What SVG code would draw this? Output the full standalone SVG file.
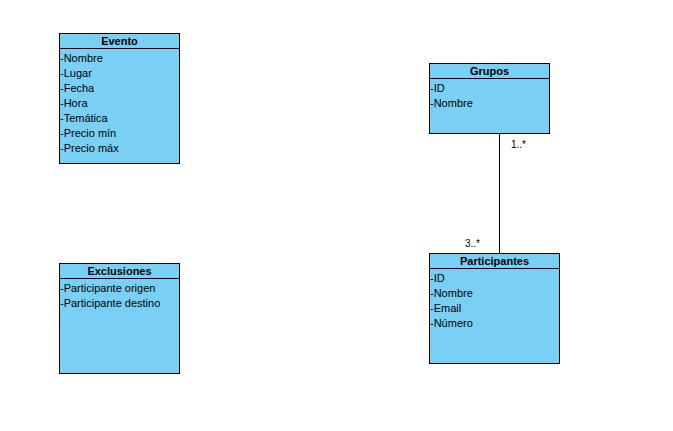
<svg xmlns="http://www.w3.org/2000/svg" width="673" height="431" viewBox="0 0 673 431">
  <style>
    .box { fill: #7acff5; stroke: #000; stroke-width: 1; }
    .sep { stroke: #000; stroke-width: 1; }
    .title { font-family: "Liberation Sans", Arial, sans-serif; font-size: 11px; font-weight: bold; fill: #000; text-anchor: middle; }
    .attr { font-family: "Liberation Sans", Arial, sans-serif; font-size: 11px; fill: #000; }
    .mult { font-family: "Liberation Sans", Arial, sans-serif; font-size: 10px; fill: #000; }
    .link { stroke: #000; stroke-width: 1; fill: none; }
  </style>
  <rect width="673" height="431" fill="#fff"/>

  <g id="connectors">
    <line class="link" x1="499.5" y1="133" x2="499.5" y2="253"/>
    <text class="mult" x="511" y="148">1..*</text>
    <text class="mult" x="465" y="247">3..*</text>
  </g>

  <g id="evento">
    <rect class="box" x="59.5" y="33.5" width="120" height="130"/>
    <line class="sep" x1="59.5" y1="48.5" x2="179.5" y2="48.5"/>
    <text class="title" x="119.5" y="45">Evento</text>
    <text class="attr" x="60" y="62">-Nombre</text>
    <text class="attr" x="60" y="77">-Lugar</text>
    <text class="attr" x="60" y="92">-Fecha</text>
    <text class="attr" x="60" y="107">-Hora</text>
    <text class="attr" x="60" y="122">-Temática</text>
    <text class="attr" x="60" y="137">-Precio mín</text>
    <text class="attr" x="60" y="152">-Precio máx</text>
  </g>

  <g id="grupos">
    <rect class="box" x="429.5" y="63.5" width="120" height="70"/>
    <line class="sep" x1="429.5" y1="78.5" x2="549.5" y2="78.5"/>
    <text class="title" x="489.5" y="75">Grupos</text>
    <text class="attr" x="430" y="92">-ID</text>
    <text class="attr" x="430" y="107">-Nombre</text>
  </g>

  <g id="exclusiones">
    <rect class="box" x="59.5" y="263.5" width="120" height="110"/>
    <line class="sep" x1="59.5" y1="278.5" x2="179.5" y2="278.5"/>
    <text class="title" x="119.5" y="275">Exclusiones</text>
    <text class="attr" x="60" y="292">-Participante origen</text>
    <text class="attr" x="60" y="307">-Participante destino</text>
  </g>

  <g id="participantes">
    <rect class="box" x="429.5" y="253.5" width="130" height="110"/>
    <line class="sep" x1="429.5" y1="268.5" x2="559.5" y2="268.5"/>
    <text class="title" x="494.5" y="265">Participantes</text>
    <text class="attr" x="430" y="282">-ID</text>
    <text class="attr" x="430" y="297">-Nombre</text>
    <text class="attr" x="430" y="312">-Email</text>
    <text class="attr" x="430" y="327">-Número</text>
  </g>
</svg>
